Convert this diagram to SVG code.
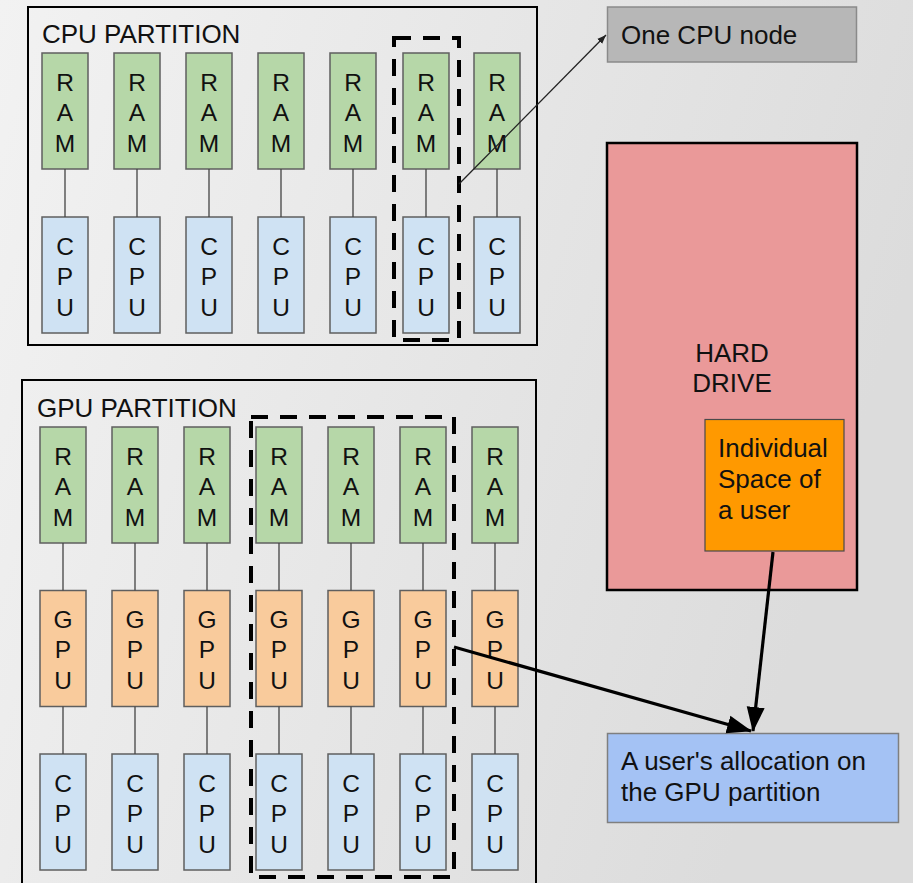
<svg xmlns="http://www.w3.org/2000/svg" width="913" height="883" viewBox="0 0 913 883">
<defs>
<linearGradient id="bg" x1="0" y1="0" x2="1" y2="0.3">
<stop offset="0" stop-color="#f2f2f2"/>
<stop offset="1" stop-color="#dcdcdc"/>
</linearGradient>
<marker id="bigArrow" markerUnits="userSpaceOnUse" markerWidth="26" markerHeight="20" refX="24" refY="10" orient="auto">
<path d="M0,1 L25,10 L0,19 z" fill="#000"/>
</marker>
<marker id="smallArrow" markerUnits="userSpaceOnUse" markerWidth="10" markerHeight="8" refX="9" refY="4" orient="auto">
<path d="M0,0.5 L9,4 L0,7.5 z" fill="#222"/>
</marker>
<style>
text{font-family:"Liberation Sans",Arial,sans-serif;font-size:26px;fill:#111}
.part{fill:none;stroke:#000;stroke-width:2}
.ram{fill:#b6d7a8;stroke:#5f5f5f;stroke-width:1.5}
.gpu{fill:#f9cb9c;stroke:#5f5f5f;stroke-width:1.5}
.cpu{fill:#cfe2f3;stroke:#5f5f5f;stroke-width:1.5}
.lt{text-anchor:middle;font-size:24.5px}
.dash{fill:none;stroke:#000;stroke-width:4;stroke-dasharray:17 12}
.wire{stroke:#444;stroke-width:1.3;fill:none}
.thick{stroke:#000;stroke-width:3.2;fill:none}
</style>
</defs>
<rect x="0" y="0" width="913" height="883" fill="url(#bg)"/>

<g id="cpu-partition">
<rect class="part" x="28" y="7" width="509" height="338"/>
<text x="42" y="43">CPU PARTITION</text>
</g>
<g id="gpu-partition">
<rect class="part" x="22" y="380" width="514" height="520"/>
<text x="37" y="417">GPU PARTITION</text>
</g>

<g id="cpu-part-nodes">
<g id="cp-ram1"><rect class="ram" x="42" y="53" width="46" height="116"/><text class="lt"><tspan x="65" y="90.5">R</tspan><tspan x="65" y="121">A</tspan><tspan x="65" y="151.5">M</tspan></text></g>
<g id="cp-ram2"><rect class="ram" x="114" y="53" width="46" height="116"/><text class="lt"><tspan x="137" y="90.5">R</tspan><tspan x="137" y="121">A</tspan><tspan x="137" y="151.5">M</tspan></text></g>
<g id="cp-ram3"><rect class="ram" x="186" y="53" width="46" height="116"/><text class="lt"><tspan x="209" y="90.5">R</tspan><tspan x="209" y="121">A</tspan><tspan x="209" y="151.5">M</tspan></text></g>
<g id="cp-ram4"><rect class="ram" x="258" y="53" width="46" height="116"/><text class="lt"><tspan x="281" y="90.5">R</tspan><tspan x="281" y="121">A</tspan><tspan x="281" y="151.5">M</tspan></text></g>
<g id="cp-ram5"><rect class="ram" x="330" y="53" width="46" height="116"/><text class="lt"><tspan x="353" y="90.5">R</tspan><tspan x="353" y="121">A</tspan><tspan x="353" y="151.5">M</tspan></text></g>
<g id="cp-ram6"><rect class="ram" x="403" y="53" width="46" height="116"/><text class="lt"><tspan x="426" y="90.5">R</tspan><tspan x="426" y="121">A</tspan><tspan x="426" y="151.5">M</tspan></text></g>
<g id="cp-ram7"><rect class="ram" x="474" y="53" width="46" height="116"/><text class="lt"><tspan x="497" y="90.5">R</tspan><tspan x="497" y="121">A</tspan><tspan x="497" y="151.5">M</tspan></text></g>

<g id="cp-cpu1"><rect class="cpu" x="42" y="217" width="46" height="116"/><text class="lt"><tspan x="65" y="254.5">C</tspan><tspan x="65" y="285">P</tspan><tspan x="65" y="315.5">U</tspan></text></g>
<g id="cp-cpu2"><rect class="cpu" x="114" y="217" width="46" height="116"/><text class="lt"><tspan x="137" y="254.5">C</tspan><tspan x="137" y="285">P</tspan><tspan x="137" y="315.5">U</tspan></text></g>
<g id="cp-cpu3"><rect class="cpu" x="186" y="217" width="46" height="116"/><text class="lt"><tspan x="209" y="254.5">C</tspan><tspan x="209" y="285">P</tspan><tspan x="209" y="315.5">U</tspan></text></g>
<g id="cp-cpu4"><rect class="cpu" x="258" y="217" width="46" height="116"/><text class="lt"><tspan x="281" y="254.5">C</tspan><tspan x="281" y="285">P</tspan><tspan x="281" y="315.5">U</tspan></text></g>
<g id="cp-cpu5"><rect class="cpu" x="330" y="217" width="46" height="116"/><text class="lt"><tspan x="353" y="254.5">C</tspan><tspan x="353" y="285">P</tspan><tspan x="353" y="315.5">U</tspan></text></g>
<g id="cp-cpu6"><rect class="cpu" x="403" y="217" width="46" height="116"/><text class="lt"><tspan x="426" y="254.5">C</tspan><tspan x="426" y="285">P</tspan><tspan x="426" y="315.5">U</tspan></text></g>
<g id="cp-cpu7"><rect class="cpu" x="474" y="217" width="46" height="116"/><text class="lt"><tspan x="497" y="254.5">C</tspan><tspan x="497" y="285">P</tspan><tspan x="497" y="315.5">U</tspan></text></g>
</g>

<g id="gpu-part-nodes">
<g id="gp-ram1"><rect class="ram" x="40" y="427" width="46" height="116"/><text class="lt"><tspan x="63" y="464.5">R</tspan><tspan x="63" y="495">A</tspan><tspan x="63" y="525.5">M</tspan></text></g>
<g id="gp-ram2"><rect class="ram" x="112" y="427" width="46" height="116"/><text class="lt"><tspan x="135" y="464.5">R</tspan><tspan x="135" y="495">A</tspan><tspan x="135" y="525.5">M</tspan></text></g>
<g id="gp-ram3"><rect class="ram" x="184" y="427" width="46" height="116"/><text class="lt"><tspan x="207" y="464.5">R</tspan><tspan x="207" y="495">A</tspan><tspan x="207" y="525.5">M</tspan></text></g>
<g id="gp-ram4"><rect class="ram" x="256" y="427" width="46" height="116"/><text class="lt"><tspan x="279" y="464.5">R</tspan><tspan x="279" y="495">A</tspan><tspan x="279" y="525.5">M</tspan></text></g>
<g id="gp-ram5"><rect class="ram" x="328" y="427" width="46" height="116"/><text class="lt"><tspan x="351" y="464.5">R</tspan><tspan x="351" y="495">A</tspan><tspan x="351" y="525.5">M</tspan></text></g>
<g id="gp-ram6"><rect class="ram" x="400" y="427" width="46" height="116"/><text class="lt"><tspan x="423" y="464.5">R</tspan><tspan x="423" y="495">A</tspan><tspan x="423" y="525.5">M</tspan></text></g>
<g id="gp-ram7"><rect class="ram" x="472" y="427" width="46" height="116"/><text class="lt"><tspan x="495" y="464.5">R</tspan><tspan x="495" y="495">A</tspan><tspan x="495" y="525.5">M</tspan></text></g>

<g id="gp-gpu1"><rect class="gpu" x="40" y="590.5" width="46" height="116"/><text class="lt"><tspan x="63" y="627.5">G</tspan><tspan x="63" y="658">P</tspan><tspan x="63" y="688.5">U</tspan></text></g>
<g id="gp-gpu2"><rect class="gpu" x="112" y="590.5" width="46" height="116"/><text class="lt"><tspan x="135" y="627.5">G</tspan><tspan x="135" y="658">P</tspan><tspan x="135" y="688.5">U</tspan></text></g>
<g id="gp-gpu3"><rect class="gpu" x="184" y="590.5" width="46" height="116"/><text class="lt"><tspan x="207" y="627.5">G</tspan><tspan x="207" y="658">P</tspan><tspan x="207" y="688.5">U</tspan></text></g>
<g id="gp-gpu4"><rect class="gpu" x="256" y="590.5" width="46" height="116"/><text class="lt"><tspan x="279" y="627.5">G</tspan><tspan x="279" y="658">P</tspan><tspan x="279" y="688.5">U</tspan></text></g>
<g id="gp-gpu5"><rect class="gpu" x="328" y="590.5" width="46" height="116"/><text class="lt"><tspan x="351" y="627.5">G</tspan><tspan x="351" y="658">P</tspan><tspan x="351" y="688.5">U</tspan></text></g>
<g id="gp-gpu6"><rect class="gpu" x="400" y="590.5" width="46" height="116"/><text class="lt"><tspan x="423" y="627.5">G</tspan><tspan x="423" y="658">P</tspan><tspan x="423" y="688.5">U</tspan></text></g>
<g id="gp-gpu7"><rect class="gpu" x="472" y="590.5" width="46" height="116"/><text class="lt"><tspan x="495" y="627.5">G</tspan><tspan x="495" y="658">P</tspan><tspan x="495" y="688.5">U</tspan></text></g>

<g id="gp-cpu1"><rect class="cpu" x="40" y="754" width="46" height="116"/><text class="lt"><tspan x="63" y="791.5">C</tspan><tspan x="63" y="822">P</tspan><tspan x="63" y="852.5">U</tspan></text></g>
<g id="gp-cpu2"><rect class="cpu" x="112" y="754" width="46" height="116"/><text class="lt"><tspan x="135" y="791.5">C</tspan><tspan x="135" y="822">P</tspan><tspan x="135" y="852.5">U</tspan></text></g>
<g id="gp-cpu3"><rect class="cpu" x="184" y="754" width="46" height="116"/><text class="lt"><tspan x="207" y="791.5">C</tspan><tspan x="207" y="822">P</tspan><tspan x="207" y="852.5">U</tspan></text></g>
<g id="gp-cpu4"><rect class="cpu" x="256" y="754" width="46" height="116"/><text class="lt"><tspan x="279" y="791.5">C</tspan><tspan x="279" y="822">P</tspan><tspan x="279" y="852.5">U</tspan></text></g>
<g id="gp-cpu5"><rect class="cpu" x="328" y="754" width="46" height="116"/><text class="lt"><tspan x="351" y="791.5">C</tspan><tspan x="351" y="822">P</tspan><tspan x="351" y="852.5">U</tspan></text></g>
<g id="gp-cpu6"><rect class="cpu" x="400" y="754" width="46" height="116"/><text class="lt"><tspan x="423" y="791.5">C</tspan><tspan x="423" y="822">P</tspan><tspan x="423" y="852.5">U</tspan></text></g>
<g id="gp-cpu7"><rect class="cpu" x="472" y="754" width="46" height="116"/><text class="lt"><tspan x="495" y="791.5">C</tspan><tspan x="495" y="822">P</tspan><tspan x="495" y="852.5">U</tspan></text></g>
</g>

<g id="cpu-node-highlight"><rect class="dash" x="394" y="38" width="65" height="302"/></g>
<g id="gpu-alloc-highlight"><rect class="dash" x="251" y="417" width="203" height="460"/></g>

<g id="one-cpu-node"><rect x="607.5" y="7" width="249" height="55" fill="#b7b7b7" stroke="#8a8a8a" stroke-width="1.5"/><text x="621" y="44">One CPU node</text></g>

<g id="hard-drive"><rect x="607" y="143" width="250" height="447" fill="#ea9999" stroke="#000" stroke-width="2.5"/><text text-anchor="middle"><tspan x="732" y="362">HARD</tspan><tspan x="732" y="392">DRIVE</tspan></text></g>

<g id="individual-space"><rect x="705" y="419.5" width="139" height="131.5" fill="#ff9900" stroke="#4a4a4a" stroke-width="1.2"/><text><tspan x="718" y="457">Individual</tspan><tspan x="718" y="487.5">Space of</tspan><tspan x="718" y="518.5">a user</tspan></text></g>

<g id="user-allocation"><rect x="607.5" y="733.5" width="291" height="89" fill="#a4c2f4" stroke="#7f7f7f" stroke-width="1.5"/><text><tspan x="621" y="770">A user's allocation on</tspan><tspan x="621" y="801">the GPU partition</tspan></text></g>

<g id="connectors">
<path class="wire" d="M65,169V217M137,169V217M209,169V217M281,169V217M353,169V217M426,169V217M497,169V217"/>
<path class="wire" d="M63,543V590.5M135,543V590.5M207,543V590.5M279,543V590.5M351,543V590.5M423,543V590.5M495,543V590.5"/>
<path class="wire" d="M63,706.5V754M135,706.5V754M207,706.5V754M279,706.5V754M351,706.5V754M423,706.5V754M495,706.5V754"/>
<line x1="459" y1="184" x2="606" y2="35" stroke="#222" stroke-width="1.3" marker-end="url(#smallArrow)"/>
<line class="thick" x1="454" y1="647" x2="751" y2="731" marker-end="url(#bigArrow)"/>
<line class="thick" x1="773" y1="552" x2="753" y2="731" marker-end="url(#bigArrow)"/>
</g>
</svg>
